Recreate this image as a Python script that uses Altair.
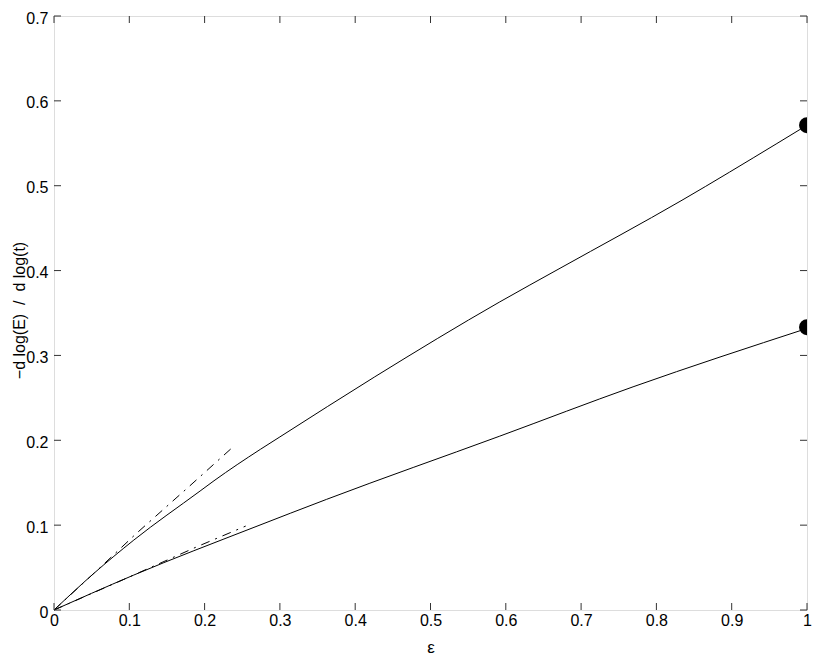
import altair as alt
import pandas as pd

# ---- data ----
upper_x = [0, 0.053, 0.106, 0.194, 0.2125, 0.274, 0.3, 0.426, 0.592, 0.672, 0.834, 0.96, 1.0]
upper_y = [0, 0.0432, 0.0824, 0.1402, 0.1523, 0.1893, 0.204, 0.2748, 0.3631, 0.4027, 0.4829, 0.5497, 0.5713]

lower_x = [0, 0.05, 0.106, 0.2656, 0.362, 0.592, 0.769, 1.0]
lower_y = [0, 0.0197, 0.0412, 0.0974, 0.1304, 0.2049, 0.263, 0.3318]

upper_dd_x = [0, 0.06, 0.1085, 0.18, 0.2404]
upper_dd_y = [0, 0.049, 0.0895, 0.146, 0.1943]

lower_dd_x = [0, 0.1, 0.19, 0.2546]
lower_dd_y = [0, 0.0389, 0.0746, 0.0989]

dot_x = [1.0, 1.0]
dot_y = [0.5713, 0.3333]

x_ticks = [0, 0.1, 0.2, 0.3, 0.4, 0.5, 0.6, 0.7, 0.8, 0.9, 1]
y_ticks = [0, 0.1, 0.2, 0.3, 0.4, 0.5, 0.6, 0.7]

W, H = 753, 594
FONT = "Liberation Sans"
TL = 7

xscale = alt.Scale(domain=[0, 1], nice=False, zero=False)
yscale = alt.Scale(domain=[0, 0.7], nice=False, zero=False)

xaxis = alt.Axis(values=x_ticks, labelExpr="format(datum.value, '~g')", ticks=False, tickSize=0,
                 domain=False, grid=False, labelPadding=2, labelFontSize=16, labelFont=FONT,
                 labelColor="black", titleFont=FONT, titleFontSize=17, titleFontWeight="normal",
                 titleColor="black", titleBaseline="alphabetic", titleY=42, labelFlush=False)
yaxis = alt.Axis(values=y_ticks, labelExpr="format(datum.value, '~g')", ticks=False, tickSize=0,
                 domain=False, grid=False, labelPadding=6, labelOffset=2, labelFontSize=16, labelFont=FONT,
                 labelColor="black", titleFont=FONT, titleFontSize=16, titleFontWeight="normal",
                 titleColor="black", titleBaseline="middle", titleX=-35, titleY=294, labelFlush=False)

X = alt.X("x:Q", scale=xscale, axis=xaxis, title="ε")
Y = alt.Y("y:Q", scale=yscale, axis=yaxis, title="\u2212d log(E)\u00a0\u00a0/\u00a0\u00a0d log(t)")

def line_df(xs, ys):
    return pd.DataFrame({"x": xs, "y": ys})

upper = alt.Chart(line_df(upper_x, upper_y)).mark_line(color="black", strokeWidth=1, interpolate="monotone").encode(x=X, y=Y)
lower = alt.Chart(line_df(lower_x, lower_y)).mark_line(color="black", strokeWidth=1, interpolate="monotone").encode(x=X, y=Y)
dash = [9, 6, 2, 6]
udd = alt.Chart(line_df(upper_dd_x, upper_dd_y)).mark_line(color="black", strokeWidth=1, strokeDash=dash).encode(x=X, y=Y)
ldd = alt.Chart(line_df(lower_dd_x, lower_dd_y)).mark_line(color="black", strokeWidth=1, strokeDash=dash).encode(x=X, y=Y)
dots = alt.Chart(line_df(dot_x, dot_y)).mark_circle(color="black", size=254, opacity=1, clip=True).encode(x=X, y=Y)

xt = pd.DataFrame({"x": x_ticks})
yt = pd.DataFrame({"y": y_ticks})
tick_style = dict(color="#333", strokeWidth=1)
bt = alt.Chart(xt).mark_rule(**tick_style).encode(x=X, y=alt.value(H), y2=alt.value(H - TL))
tt = alt.Chart(xt).mark_rule(**tick_style).encode(x=X, y=alt.value(0), y2=alt.value(TL))
lt = alt.Chart(yt).mark_rule(**tick_style).encode(y=Y, x=alt.value(0), x2=alt.value(TL))
rt = alt.Chart(yt).mark_rule(**tick_style).encode(y=Y, x=alt.value(W - TL), x2=alt.value(W))

chart = alt.layer(upper, lower, udd, ldd, dots, bt, tt, lt, rt).properties(
    width=W, height=H,
    autosize=alt.AutoSizeParams(type="none"),
    padding={"left": 46, "top": 8, "right": 15, "bottom": 45},
).configure_view(stroke="#333", strokeWidth=1).configure(background="white").configure_axis(
    labelFontSize=16, titleFontSize=16, labelFont=FONT, titleFont=FONT
)

chart.save("out.html", embed_options={"renderer": "svg", "actions": False})
